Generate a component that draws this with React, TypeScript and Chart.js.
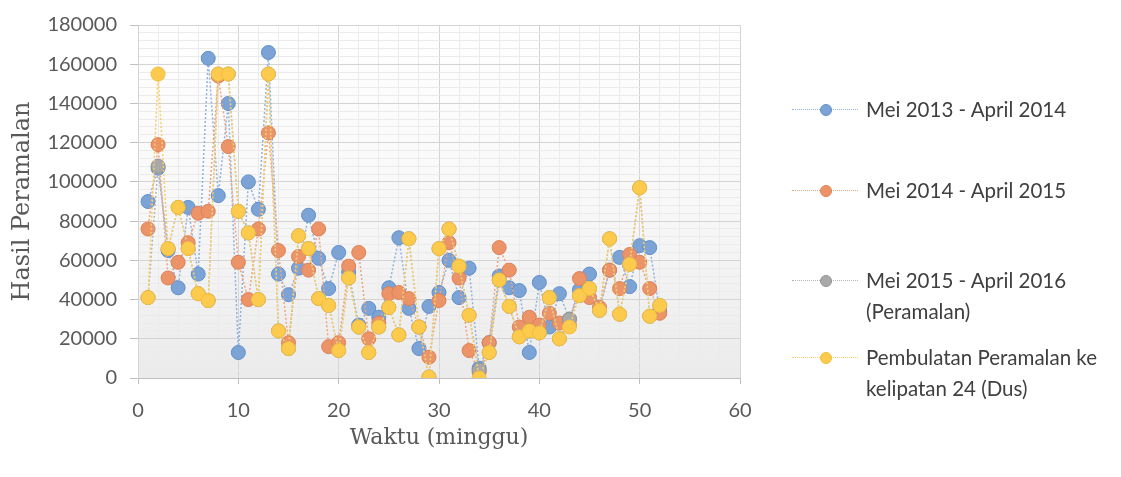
import React, { useEffect, useRef } from "react";
import { Chart, registerables } from "chart.js";

Chart.register(...registerables);

const weeks = [
  1, 2, 3, 4, 5, 6, 7, 8, 9, 10, 11, 12, 13, 14, 15, 16, 17, 18, 19, 20, 21, 22, 23, 24, 25, 26,
  27, 28, 29, 30, 31, 32, 33, 34, 35, 36, 37, 38, 39, 40, 41, 42, 43, 44, 45, 46, 47, 48, 49, 50, 51, 52,
];

const seriesNames = [
  ["Mei 2013 - April 2014"],
  ["Mei 2014 - April 2015"],
  ["Mei 2015 - April 2016", "(Peramalan)"],
  ["Pembulatan Peramalan ke", "kelipatan 24 (Dus)"],
];

const mei2013 = [
  90000, 107000, 65000, 46000, 87000, 53000, 163000, 93000, 140000, 13000, 100000, 86000, 166000,
  53000, 42500, 56000, 83000, 61000, 45600, 64000, 54000, 27000, 35500, 31000, 46000, 71500,
  35500, 15000, 36500, 43600, 60000, 41000, 56000, 5000, 18000, 52000, 46000, 44600, 13000, 48700,
  26000, 43000, 30000, 45000, 53000, 35000, 55000, 61500, 46600, 67500, 66500, 34000,
];

const mei2014 = [
  76000, 119000, 51000, 59000, 69000, 84000, 85000, 154000, 118000, 59000, 40000, 76000, 125000,
  65000, 18000, 62000, 55000, 76000, 16000, 18000, 57000, 64000, 20000, 28000, 43000, 43600,
  40500, 26000, 10600, 39500, 69000, 51000, 14000, 3000, 18000, 66500, 55000, 26000, 31000, 27000,
  33000, 28000, 27000, 50700, 41000, 36000, 55000, 45600, 63000, 59000, 45600, 33000,
];

const mei2015 = [
  41000, 108000, 66000, 87000, 66000, 43000, 39500, 155000, 155000, 85000, 74000, 40000, 155000,
  24000, 15000, 72500, 66000, 40500, 37000, 14000, 51000, 26000, 13000, 26000, 36000, 22000,
  71000, 26000, 500, 66000, 76000, 57000, 32000, 4000, 13000, 50000, 36500, 21000, 24000, 23000,
  41000, 20000, 30000, 42000, 45600, 34500, 71000, 32500, 58000, 97000, 31500, 37000,
];

const pembulatan = [
  41000, 155000, 66000, 87000, 66000, 43000, 39500, 155000, 155000, 85000, 74000, 40000, 155000,
  24000, 15000, 72500, 66000, 40500, 37000, 14000, 51000, 26000, 13000, 26000, 36000, 22000,
  71000, 26000, 500, 66000, 76000, 57000, 32000, 0, 13000, 50000, 36500, 21000, 24000, 23000,
  41000, 20000, 26000, 42000, 45600, 34500, 71000, 32500, 58000, 97000, 31500, 37000,
];

const xTickValues = [0, 10, 20, 30, 40, 50, 60];
const yTickValues = [0, 20000, 40000, 60000, 80000, 100000, 120000, 140000, 160000, 180000];

const styles = [
  { fill: "#7ba3d6", border: "#6190c9", line: "#8fb2de" },
  { fill: "#ec9468", border: "#de8057", line: "#efa47f" },
  { fill: "#a9a9a9", border: "#949494", line: "#b5b5b5" },
  { fill: "#fcca4c", border: "#f4be3c", line: "#f8cf62" },
];

const allSeries = [mei2013, mei2014, mei2015, pembulatan];

const bgPlugin = {
  id: "plotBg",
  beforeDraw(chart: any) {
    const { ctx, chartArea } = chart;
    if (!chartArea) return;
    const g = ctx.createLinearGradient(0, chartArea.top, 0, chartArea.bottom);
    g.addColorStop(0, "#ffffff");
    g.addColorStop(0.5, "#f8f8f8");
    g.addColorStop(1, "#ebebeb");
    ctx.save();
    ctx.fillStyle = g;
    ctx.fillRect(chartArea.left, chartArea.top, chartArea.right - chartArea.left, chartArea.bottom - chartArea.top);
    ctx.restore();
  },
};

export default function App() {
  const ref = useRef<HTMLCanvasElement | null>(null);

  useEffect(() => {
    if (!ref.current) return;
    const datasets = allSeries.map((vals, i) => ({
      label: seriesNames[i].join(" "),
      data: weeks.map((w, k) => ({ x: w, y: vals[k] })),
      borderColor: styles[i].line,
      borderWidth: 1.5,
      borderDash: [2, 2],
      pointRadius: 7,
      pointBorderWidth: 1,
      pointBackgroundColor: styles[i].fill,
      pointBorderColor: styles[i].border,
      tension: 0,
      order: 4 - i,
    }));

    const chart = new Chart(ref.current, {
      type: "line",
      data: { datasets },
      plugins: [bgPlugin],
      options: {
        responsive: false,
        animation: false,
        layout: { padding: { left: 0, right: 381, top: 23, bottom: 0 } },
        plugins: { legend: { display: false }, tooltip: { enabled: false } },
        scales: {
          x: {
            type: "linear",
            min: 0,
            max: 60,
            afterFit: (s: any) => {
              s.height = 99;
            },
            ticks: {
              stepSize: 2,
              autoSkip: false,
              maxRotation: 0,
              maxTicksLimit: 100,
              padding: 15,
              color: "#595959",
              font: { family: "Lato", size: 20 },
              callback: (v: any) => (xTickValues.includes(Number(v)) ? String(v) : ""),
            },
            grid: {
              color: (c: any) => (c.tick && c.tick.value % 10 === 0 ? "#d4d4d4" : "#ebebeb"),
              tickColor: (c: any) => (c.tick && c.tick.value % 10 === 0 ? "#bfbfbf" : "rgba(0,0,0,0)"),
              tickLength: 6,
            },
            border: { display: true, color: "#bfbfbf" },
            title: {
              display: true,
              text: "Waktu (minggu)",
              color: "#595959",
              font: { family: "DejaVu Serif", size: 22 },
              padding: { top: 0, bottom: 26 },
            },
          },
          y: {
            type: "linear",
            min: 0,
            max: 180000,
            afterFit: (s: any) => {
              s.width = 138;
            },
            ticks: {
              stepSize: 4000,
              autoSkip: false,
              maxTicksLimit: 100,
              padding: 13,
              color: "#595959",
              font: { family: "Lato", size: 20 },
              callback: (v: any) => (yTickValues.includes(Number(v)) ? String(v) : ""),
            },
            grid: {
              color: (c: any) => (c.tick && c.tick.value % 20000 === 0 ? "#d4d4d4" : "#ebebeb"),
              tickColor: (c: any) => (c.tick && c.tick.value % 20000 === 0 ? "#bfbfbf" : "rgba(0,0,0,0)"),
              tickLength: 8,
            },
            border: { display: true, color: "#d4d4d4" },
            title: {
              display: true,
              text: "Hasil Peramalan",
              color: "#595959",
              font: { family: "DejaVu Serif", size: 24 },
              padding: { top: 8, bottom: 0 },
            },
          },
        },
      },
    });
    return () => chart.destroy();
  }, []);

  const legendTops = [109, 190, 280, 357];

  return (
    <div style={{ position: "absolute", left: 0, top: 0, width: 1121, height: 477, background: "#ffffff" }}>
      <canvas ref={ref} width={1121} height={477} style={{ display: "block", width: 1121, height: 477 }} />
      {seriesNames.map((lines, i) => (
        <div key={i} style={{ position: "absolute", left: 0, top: 0 }}>
          <div
            style={{
              position: "absolute",
              left: 792,
              top: legendTops[i],
              width: 66,
              height: 0,
              borderTop: `1.5px dotted ${styles[i].line}`,
            }}
          />
          <div
            style={{
              position: "absolute",
              left: 820,
              top: legendTops[i] - 5,
              width: 10,
              height: 10,
              borderRadius: "50%",
              background: styles[i].fill,
              border: `1px solid ${styles[i].border}`,
            }}
          />
          {lines.map((t, j) => (
            <div
              key={j}
              style={{
                position: "absolute",
                left: 866,
                top: legendTops[i] - 13 + j * 31,
                whiteSpace: "nowrap",
                fontFamily: "Lato",
                fontSize: 20.5,
                lineHeight: "26px",
                color: "#404040",
              }}
            >
              {t}
            </div>
          ))}
        </div>
      ))}
    </div>
  );
}
